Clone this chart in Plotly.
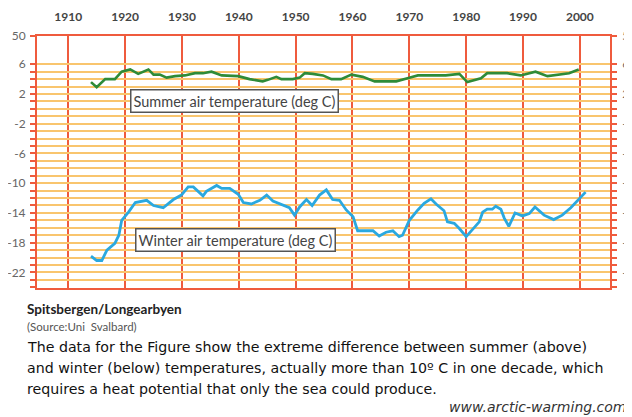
import plotly.graph_objects as go

# Spitsbergen/Longyearbyen air temperatures
summer_years = [1914.0, 1915.0, 1916.5, 1918.2, 1919.4, 1920.9, 1922.3, 1924.1, 1925.0, 1926.1,
                1927.3, 1928.8, 1930.5, 1932.3, 1933.7, 1935.2, 1937.0, 1939.0, 1939.9, 1941.9,
                1944.2, 1945.1, 1946.6, 1947.5, 1949.5, 1950.7, 1951.6, 1953.0, 1954.8, 1956.3,
                1958.0, 1959.8, 1961.8, 1963.9, 1967.7, 1970.0, 1971.5, 1976.4, 1978.8, 1980.2,
                1982.6, 1983.7, 1987.2, 1989.6, 1992.2, 1994.3, 1996.9, 1998.1, 1999.8]
summer_temps = [3.6, 2.9, 4.0, 4.0, 5.0, 5.3, 4.7, 5.3, 4.6, 4.6,
                4.2, 4.4, 4.5, 4.8, 4.8, 5.0, 4.5, 4.4, 4.4, 4.0,
                3.7, 3.9, 4.3, 4.0, 4.0, 4.2, 4.8, 4.7, 4.5, 4.0,
                4.0, 4.6, 4.3, 3.7, 3.7, 4.2, 4.5, 4.5, 4.7, 3.6,
                4.1, 4.8, 4.8, 4.5, 5.0, 4.4, 4.7, 4.8, 5.3]

winter_years = [1914.0, 1915.0, 1915.9, 1916.8, 1918.2, 1918.9, 1919.4, 1920.6, 1921.8, 1923.8,
                1925.0, 1926.7, 1928.5, 1929.9, 1931.1, 1932.0, 1933.7, 1934.3, 1936.1, 1937.0,
                1938.4, 1939.9, 1940.8, 1942.2, 1943.7, 1944.9, 1946.0, 1947.8, 1948.9, 1949.8,
                1950.7, 1951.9, 1952.9, 1954.2, 1955.4, 1956.5, 1957.7, 1958.9, 1960.1, 1960.9,
                1963.6, 1964.7, 1965.9, 1967.1, 1968.2, 1968.8, 1969.4, 1970.0, 1971.5, 1972.6,
                1973.8, 1974.7, 1976.1, 1976.7, 1977.9, 1978.8, 1980.0, 1981.1, 1982.3, 1982.9,
                1983.7, 1984.6, 1985.2, 1986.1, 1986.7, 1987.5, 1988.6, 1989.9, 1991.1, 1992.1,
                1993.7, 1995.4, 1996.9, 1998.4, 1999.8, 2001.0]
winter_temps = [-19.8, -20.4, -20.4, -19.0, -18.1, -17.0, -15.0, -13.9, -12.6, -12.3,
                -13.0, -13.3, -12.2, -11.6, -10.5, -10.5, -11.7, -11.1, -10.3, -10.7,
                -10.7, -11.5, -12.6, -12.8, -12.3, -11.6, -12.4, -12.9, -13.3, -14.3,
                -13.2, -12.2, -13.0, -11.6, -10.9, -12.2, -12.3, -13.6, -14.5, -16.4,
                -16.4, -17.1, -16.6, -16.4, -17.2, -17.0, -16.1, -15.0, -13.6, -12.7,
                -12.1, -12.8, -13.7, -15.2, -15.4, -16.1, -17.2, -16.2, -15.2, -13.9,
                -13.5, -13.5, -13.1, -13.5, -14.7, -15.8, -14.0, -14.4, -14.1, -13.2,
                -14.3, -14.9, -14.3, -13.3, -12.2, -11.2]

decades = [1910, 1920, 1930, 1940, 1950, 1960, 1970, 1980, 1990, 2000]

# y axis: the top edge is labelled "50" in the original, grid every degree below 6
y_top = 9.8
y_bottom = -24.1
grid_vals = list(range(6, -25, -1))
label_vals = [y_top, 6, 2, -2, -6, -10, -14, -18, -22]
label_text = ["50", "6", "2", "-2", "-6", "-10", "-14", "-18", "-22"]

tick_vals = [y_top] + grid_vals
tick_text = [label_text[label_vals.index(v)] if v in label_vals else "" for v in tick_vals]

RED = "#ef5b3d"
ORANGE = "#f9c56e"
FONT = "Lato"
TEXT_FONT = "DejaVu Sans"

# the page puts the figure 8px in from the top-left corner
W, H = 624, 409
L, T, R, B = 29, 28, 22, 129
plot_w = W - L - R
plot_h = H - T - B

fig = go.Figure()

fig.add_trace(go.Scatter(
    x=summer_years, y=summer_temps, mode="lines",
    line=dict(color="#2e8b38", width=2.6), showlegend=False,
))
fig.add_trace(go.Scatter(
    x=winter_years, y=winter_temps, mode="lines",
    line=dict(color="#2aa8df", width=2.8), showlegend=False,
))
# invisible trace so the right-hand axis gets drawn
fig.add_trace(go.Scatter(
    x=[decades[0]], y=[y_bottom], yaxis="y2", mode="markers",
    marker=dict(opacity=0), showlegend=False, hoverinfo="skip",
))

yaxis_common = dict(
    range=[y_bottom, y_top],
    tickmode="array",
    tickvals=tick_vals,
    ticktext=tick_text,
    ticks="outside",
    ticklen=5,
    tickwidth=1.5,
    tickcolor=RED,
    tickfont=dict(family=FONT, size=12, color="#666666"),
    zeroline=False,
    showline=True,
    linecolor=RED,
    automargin=False,
)

fig.update_layout(
    width=W,
    height=H,
    autosize=False,
    margin=dict(l=L, r=R, t=T, b=B, pad=0, autoexpand=False),
    paper_bgcolor="white",
    plot_bgcolor="white",
    xaxis=dict(
        range=[1904.5, 2005.3],
        side="top",
        tickmode="array",
        tickvals=decades,
        ticks="",
        ticklabelstandoff=8,
        tickfont=dict(family=FONT, size=12, color="#444444", weight="bold"),
        showgrid=True,
        gridcolor=RED,
        gridwidth=1.6,
        zeroline=False,
        showline=True,
        mirror=True,
        linecolor=RED,
        linewidth=2,
        automargin=False,
    ),
    yaxis=dict(
        **yaxis_common,
        linewidth=2,
        showgrid=True,
        gridcolor=ORANGE,
        gridwidth=1.6,
        ticklabelstandoff=2,
    ),
    yaxis2=dict(
        **yaxis_common,
        overlaying="y",
        side="right",
        anchor="x",
        linewidth=1.6,
        showgrid=False,
        ticklabelstandoff=3,
    ),
)

box = dict(
    showarrow=False,
    bgcolor="white",
    bordercolor="#555555",
    borderwidth=1.5,
    borderpad=2,
    font=dict(family=FONT, size=14.5, color="#444444"),
)
fig.add_annotation(x=1939.3, y=1.0, text="Summer air temperature (deg C)", **box)
fig.add_annotation(x=1939.4, y=-17.7, text="Winter air temperature (deg C)", **box)


def paper_x(px):
    return (px - 8 - L) / plot_w


def paper_y(py):
    return (T + plot_h - (py - 8)) / plot_h


captions = [
    ("<b>Spitsbergen/Longearbyen</b>", 309, FONT, 13.5, "#222222"),
    ("(Source:Uni  Svalbard)", 326, FONT, 11.5, "#555555"),
    ("The data for the Figure show the extreme difference between summer (above)", 347, TEXT_FONT, 14.2, "#111111"),
    ("and winter (below) temperatures, actually more than 10º C in one decade, which", 368, TEXT_FONT, 14.2, "#111111"),
    ("requires a heat potential that only the sea could produce.", 389, TEXT_FONT, 14.2, "#111111"),
]
for text, py, family, size, color in captions:
    fig.add_annotation(
        xref="paper", yref="paper", x=paper_x(25), y=paper_y(py),
        xanchor="left", yanchor="middle", showarrow=False, align="left",
        text=text, font=dict(family=family, size=size, color=color),
    )

fig.add_annotation(
    xref="paper", yref="paper", x=paper_x(629), y=paper_y(407),
    xanchor="right", yanchor="middle", showarrow=False,
    text="<i>www.arctic-warming.com</i>",
    font=dict(family=TEXT_FONT, size=14, color="#333333"),
)

fig.write_html("out.html")
